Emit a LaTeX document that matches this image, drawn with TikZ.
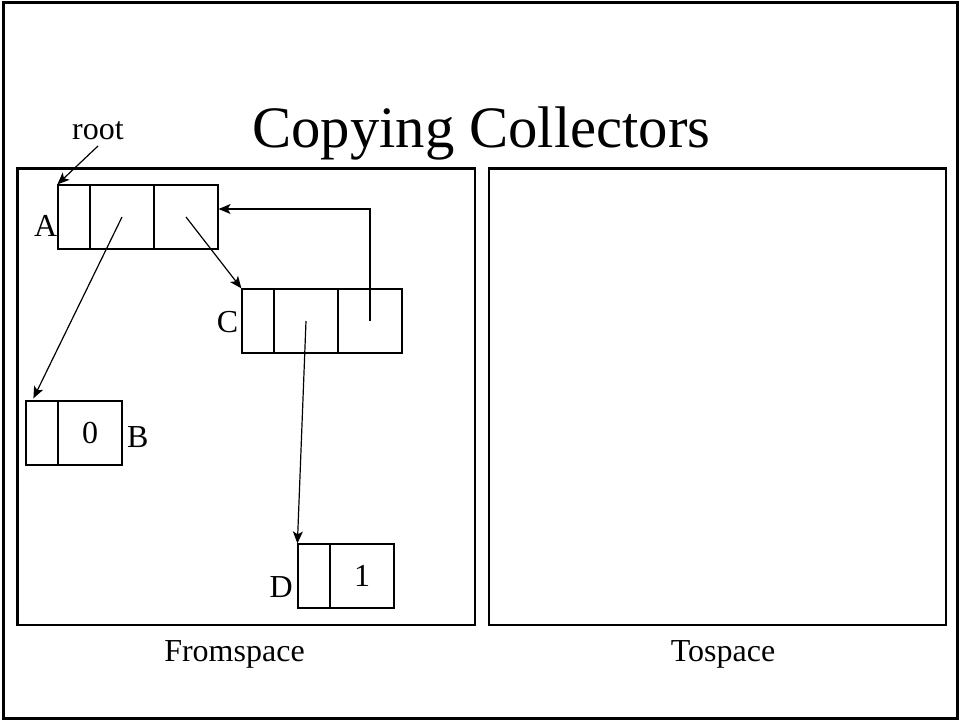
\documentclass[tikz,border=0pt]{standalone}
\usepackage{fontspec}
\setmainfont{Liberation Serif}
\usetikzlibrary{arrows.meta,calc}
\begin{document}
\begin{tikzpicture}[x=1pt,y=-1pt,
  cellA/.style={draw,line width=1.2pt,inner sep=0pt,minimum height=64pt,font=\fontsize{32}{36}\selectfont},
  narrow/.style={cellA,minimum width=32pt},
  wide/.style={cellA,minimum width=64pt},
  space/.style={draw,line width=2.6pt},
  lbl/.style={inner sep=0pt,font=\fontsize{32}{36}\selectfont},
  ptr/.style={line width=1.2pt,-{Stealth[length=12pt,width=10pt,inset=3pt]}}]
\useasboundingbox (0,0) rectangle (961,721);
\draw[line width=3pt] (3,2.5) rectangle (957.5,718);
\node[lbl,anchor=base] (title) at (481.5,147) {\fontsize{58.7}{64}\selectfont Copying Collectors};
\draw[space] (17.5,168.5) rectangle (475,625);
\draw[space] (489,168.5) rectangle (946,625);
\node[lbl,anchor=base] (from) at (234.5,661) {Fromspace};
\node[lbl,anchor=base] (to) at (723,661) {Tospace};
% record A
\node[narrow] (A1) at (74,217) {};
\node[wide] (A2) at (122,217) {};
\node[wide] (A3) at (186,217) {};
% record C
\node[narrow] (C1) at (258,321) {};
\node[wide] (C2) at (306,321) {};
\node[wide] (C3) at (370,321) {};
% record B
\node[narrow] (B1) at (42,433) {};
\node[wide] (B2) at (90,433) {0};
% record D
\node[narrow] (D1) at (314,576) {};
\node[wide] (D2) at (362,576) {1};
% labels
\node[lbl,anchor=base east] (la) at (57.5,236) {A};
\node[lbl,anchor=base east] (lc) at (238.5,332) {C};
\node[lbl,anchor=base west] (lb) at (127,447) {B};
\node[lbl,anchor=base east] (ld) at (293,597) {D};
\node[lbl,anchor=base] (root) at (98,139) {root};
\coordinate (rootstart) at (98,146);
% pointers
\draw[ptr] (rootstart) -- (A1.north west);
\draw[ptr] (A2.center) -- ([xshift=8pt,yshift=2pt]B1.north west);
\draw[ptr] (A3.center) -- (C1.north west);
\draw[ptr] (C3.center) |- ([yshift=8pt]A3.east);
\draw[ptr] (C2.center) -- (D1.north west);
\end{tikzpicture}
\end{document}
